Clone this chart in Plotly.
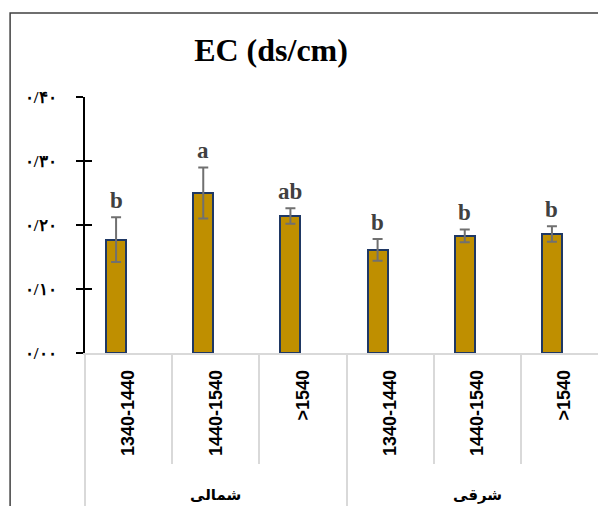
import plotly.graph_objects as go

# Elevation classes within each slope aspect
groups = ["شمالی", "شرقی"]
classes = ["1340-1440", "1440-1540", ">1540"]
ec_mean = [0.177, 0.250, 0.214, 0.161, 0.183, 0.186]
ec_err = [0.035, 0.040, 0.012, 0.017, 0.010, 0.012]
letters = ["b", "a", "ab", "b", "b", "b"]

y_ticks = [0, 0.1, 0.2, 0.3, 0.4]
y_tick_text = ["۰/۰۰", "۰/۱۰", "۰/۲۰", "۰/۳۰", "۰/۴۰"]

x_labels = classes * len(groups)
x_pos = list(range(len(x_labels)))

BAR_OFFSET = -0.258
BAR_WIDTH = 0.229
X_RANGE = [-0.5, 5.385]

fig = go.Figure()
fig.add_trace(go.Bar(
    x=x_pos, y=ec_mean,
    offset=BAR_OFFSET, width=BAR_WIDTH,
    marker=dict(color="#BF8F00", line=dict(color="#1F3864", width=2)),
    error_y=dict(type="data", array=ec_err, color="#707070", thickness=2, width=5),
    showlegend=False,
))

# empty traces so the helper axes (dividers, cross ticks) get drawn
for xa, ya in (("x2", "y"), ("x3", "y"), ("x", "y2")):
    fig.add_trace(go.Scatter(x=[], y=[], xaxis=xa, yaxis=ya,
                             showlegend=False, hoverinfo="skip"))

# significance letters above the error bars
for i, (m, e, t) in enumerate(zip(ec_mean, ec_err, letters)):
    fig.add_annotation(
        x=x_pos[i] + BAR_OFFSET + BAR_WIDTH / 2, y=m + e,
        xref="x", yref="y", text=t, showarrow=False,
        yanchor="bottom", yshift=2,
        font=dict(family="Liberation Serif", size=23, color="#404040", weight="bold"),
    )

# group labels under the category axis
for g_i, g in enumerate(groups):
    fig.add_annotation(
        x=g_i * len(classes) + (len(classes) - 1) / 2, y=-0.555,
        xref="x", yref="paper", text="<b>" + g + "</b>", showarrow=False, yanchor="middle",
        font=dict(family="DejaVu Sans", size=15, color="#000000"),
    )

# outer chart frame
fig.add_shape(type="rect", xref="paper", yref="paper",
              x0=-0.146, x1=1.3, y0=-1.0, y1=1.328,
              line=dict(color="#404040", width=1.5), fillcolor="rgba(0,0,0,0)")

fig.update_layout(
    width=598, height=506,
    margin=dict(l=85, r=0, t=97, b=153),
    paper_bgcolor="white", plot_bgcolor="white",
    bargap=0,
    title=dict(text="<b>EC (ds/cm)</b>", x=0.3626, xref="paper", y=1 - 50 / 506,
               yref="container", xanchor="center", yanchor="middle",
               font=dict(family="Liberation Serif", size=32, color="#000000")),
    xaxis=dict(
        range=X_RANGE, tickvals=x_pos, ticktext=x_labels, tickangle=-90,
        showline=True, linecolor="#D9D9D9", linewidth=1.5,
        ticks="", showgrid=False, zeroline=False, ticklabelstandoff=8,
        tickfont=dict(family="Liberation Sans", size=18, color="#000000", weight="bold"),
    ),
    xaxis2=dict(
        matches="x", overlaying="x", anchor="y", side="bottom",
        tickvals=[0.5, 1.5, 3.5, 4.5], ticks="outside", ticklen=110,
        tickcolor="#D9D9D9", tickwidth=1.5, showticklabels=False,
        showline=False, showgrid=False, zeroline=False,
    ),
    xaxis3=dict(
        matches="x", overlaying="x", anchor="y", side="bottom",
        tickvals=[-0.5, 2.5], ticks="outside", ticklen=153,
        tickcolor="#D9D9D9", tickwidth=1.5, showticklabels=False,
        showline=False, showgrid=False, zeroline=False,
    ),
    yaxis=dict(
        range=[0, 0.4], tickvals=y_ticks, ticktext=y_tick_text,
        showline=True, linecolor="#000000", linewidth=2,
        ticks="outside", ticklen=7, tickwidth=2, tickcolor="#000000",
        showgrid=False, zeroline=False, ticklabelstandoff=16,
        tickfont=dict(family="Liberation Serif", size=17, color="#000000", weight="bold"),
    ),
    yaxis2=dict(
        matches="y", overlaying="y", anchor="x", side="left",
        tickvals=y_ticks, ticks="inside", ticklen=7, tickwidth=2, tickcolor="#000000",
        showticklabels=False, showline=False, showgrid=False, zeroline=False,
    ),
)

fig.write_html("out.html")
